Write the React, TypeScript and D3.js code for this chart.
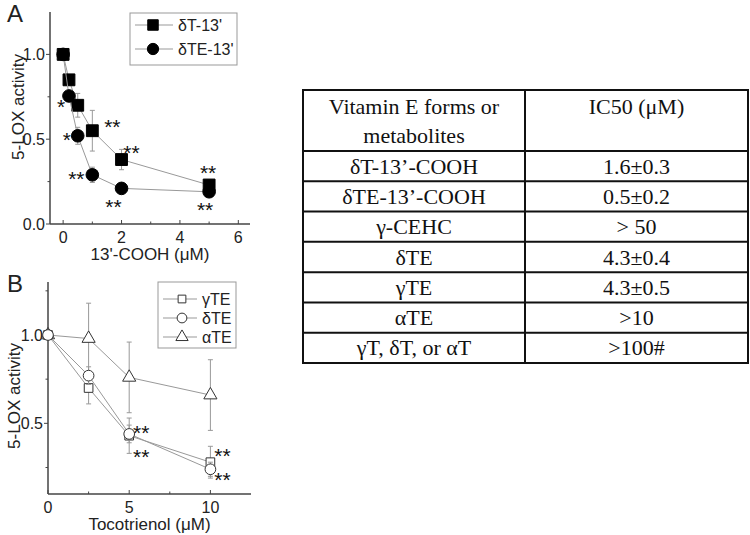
import * as d3 from "d3";

// Panel A: 13'-COOH metabolites
const concA = [0, 0.2, 0.5, 1, 2, 5];
const dT13 = [1.0, 0.85, 0.7, 0.55, 0.38, 0.23];
const dT13Err = [0, 0.03, 0.07, 0.12, 0.06, 0.03];
const dTE13 = [1.0, 0.755, 0.52, 0.29, 0.21, 0.19];
const dTE13Err = [0, 0.03, 0.05, 0.045, 0.02, 0.02];

// Panel B: tocotrienols
const concB = [0, 2.5, 5, 10];
const gTE = [1.0, 0.7, 0.43, 0.28];
const gTEErr = [0, 0.09, 0.1, 0.09];
const dTE = [1.0, 0.77, 0.44, 0.24];
const dTEErr = [0, 0.05, 0.05, 0.04];
const aTE = [1.0, 0.98, 0.76, 0.66];
const aTEErr = [0, 0.2, 0.2, 0.2];

// table
const tableHead = ["Vitamin E forms or", "metabolites"];
const tableHead2 = "IC50 (\u03bcM)";
const tableForms = ["\u03b4T-13\u2019-COOH", "\u03b4TE-13\u2019-COOH", "\u03b3-CEHC", "\u03b4TE", "\u03b3TE", "\u03b1TE", "\u03b3T, \u03b4T, or \u03b1T"];
const tableIC50 = ["1.6\u00b10.3", "0.5\u00b10.2", "> 50", "4.3\u00b10.4", "4.3\u00b10.5", ">10", ">100#"];

const SANS = "'Liberation Sans', Arial, sans-serif";
const SERIF = "'Liberation Serif', 'Times New Roman', serif";
const AX = "#444";
const LN = "#999";

function Star({ x, y, n }: { x: number; y: number; n: number }) {
  const fs = 21;
  return (
    <text x={x} y={y + 0.58 * fs} textAnchor="middle" fontSize={fs} fontFamily={SANS} fill="#111">
      {"*".repeat(n)}
    </text>
  );
}

function Axes({ x, y, xMaj, xMin, yMaj, yMin, xFmt, yFmt, xLabel, yLabelX, yLabelY }: any) {
  const [x0, x1] = x.range();
  const [y0, y1] = y.range();
  return (
    <g fontFamily={SANS} fill="#222">
      <line x1={x0} x2={x1} y1={y0} y2={y0} stroke={AX} strokeWidth={1.5} />
      <line x1={x0} x2={x0} y1={y0} y2={y1} stroke={AX} strokeWidth={1.5} />
      {xMaj.map((t: number) => (
        <g key={"xm" + t}>
          <line x1={x(t)} x2={x(t)} y1={y0} y2={y0 - 4} stroke={AX} />
          <text x={x(t)} y={y0 + 18.5} textAnchor="middle" fontSize={16}>{xFmt(t)}</text>
        </g>
      ))}
      {xMin.map((t: number) => (
        <line key={"xn" + t} x1={x(t)} x2={x(t)} y1={y0} y2={y0 - 2.5} stroke={AX} />
      ))}
      {yMaj.map((t: number) => (
        <g key={"ym" + t}>
          <line x1={x0} x2={x0 - 4} y1={y(t)} y2={y(t)} stroke={AX} />
          <text x={x0 - 5} y={y(t) + 6} textAnchor="end" fontSize={16}>{yFmt(t)}</text>
        </g>
      ))}
      {yMin.map((t: number) => (
        <line key={"yn" + t} x1={x0} x2={x0 - 2.5} y1={y(t)} y2={y(t)} stroke={AX} />
      ))}
      <text x={(x0 + x1) / 2} y={y0 + 36} textAnchor="middle" fontSize={17}>{xLabel}</text>
      <text transform={`translate(${yLabelX},${yLabelY}) rotate(-90)`} textAnchor="middle" fontSize={17}>
        5-LOX activity
      </text>
    </g>
  );
}

function Series({ xs, ys, errs, x, y, symbol, size, fill, stroke }: any) {
  const line = d3.line<number>().x((_, i) => x(xs[i])).y((d) => y(d));
  const sym = d3.symbol().type(symbol).size(size)();
  return (
    <g>
      <path d={line(ys) || ""} fill="none" stroke={LN} strokeWidth={1} />
      {ys.map((v: number, i: number) =>
        errs[i] > 0 ? (
          <g key={"e" + i} stroke={LN} strokeWidth={1}>
            <line x1={x(xs[i])} x2={x(xs[i])} y1={y(v - errs[i])} y2={y(v + errs[i])} />
            <line x1={x(xs[i]) - 2.5} x2={x(xs[i]) + 2.5} y1={y(v - errs[i])} y2={y(v - errs[i])} />
            <line x1={x(xs[i]) - 2.5} x2={x(xs[i]) + 2.5} y1={y(v + errs[i])} y2={y(v + errs[i])} />
          </g>
        ) : null
      )}
      {ys.map((v: number, i: number) => (
        <path key={"m" + i} d={sym || ""} transform={`translate(${x(xs[i])},${y(v)})`} fill={fill} stroke={stroke} strokeWidth={1} />
      ))}
    </g>
  );
}

function LegendRow({ y, x0, x1, mx, tx, symbol, size, fill, stroke, label }: any) {
  const sym = d3.symbol().type(symbol).size(size)();
  return (
    <g>
      <line x1={x0} x2={x1} y1={y} y2={y} stroke={LN} />
      <path d={sym || ""} transform={`translate(${mx},${y})`} fill={fill} stroke={stroke} />
      <text x={tx} y={y + 5.5} fontSize={16} fontFamily={SANS} fill="#222">{label}</text>
    </g>
  );
}

export default function App() {
  const xA = d3.scaleLinear().domain([-0.45, 6.4]).range([50, 250]);
  const yA = d3.scaleLinear().domain([0, 1.25]).range([224, 12]);
  const xB = d3.scaleLinear().domain([0, 12.5]).range([48, 251]);
  const yB = d3.scaleLinear().domain([0.1, 1.3]).range([494, 282]);

  const rowY = d3.scaleLinear().domain([0, tableForms.length]).range([151, 363]);
  const colX = [303, 525, 748];

  const pA = (xs: number[], ys: number[], i: number) => [xA(xs[i]), yA(ys[i])];
  const pB = (xs: number[], ys: number[], i: number) => [xB(xs[i]), yB(ys[i])];

  // significance stars, offset from the marker they belong to
  const starsA = [
    { p: pA(concA, dTE13, 1), dx: -8, dy: 6, n: 1 },
    { p: pA(concA, dTE13, 2), dx: -11, dy: -1, n: 1 },
    { p: pA(concA, dTE13, 3), dx: -16, dy: -1, n: 2 },
    { p: pA(concA, dT13, 3), dx: 20, dy: -9, n: 2 },
    { p: pA(concA, dT13, 4), dx: 10, dy: -12, n: 2 },
    { p: pA(concA, dTE13, 4), dx: -8, dy: 13, n: 2 },
    { p: pA(concA, dT13, 5), dx: -1, dy: -17, n: 2 },
    { p: pA(concA, dTE13, 5), dx: -4, dy: 13, n: 2 },
  ];
  const starsB = [
    { p: pB(concB, dTE, 2), dx: 12, dy: -6, n: 2 },
    { p: pB(concB, dTE, 2), dx: 12, dy: 18, n: 2 },
    { p: pB(concB, gTE, 3), dx: 12, dy: -11, n: 2 },
    { p: pB(concB, dTE, 3), dx: 12, dy: 6, n: 2 },
  ];

  return (
    <svg width={750} height={535} style={{ position: "absolute", left: 0, top: 0, background: "#fff" }}>
      <rect width={750} height={535} fill="#fff" />

      {/* Panel A */}
      <text x={7} y={22} fontSize={24} fontFamily={SANS} fill="#222">A</text>
      <Axes x={xA} y={yA} xMaj={[0, 2, 4, 6]} xMin={[1, 3, 5]} yMaj={[0, 0.5, 1]} yMin={[0.25, 0.75]}
        xFmt={(t: number) => String(t)} yFmt={d3.format(".1f")} xLabel={"13'-COOH (\u03bcM)"}
        yLabelX={24} yLabelY={107} />
      <Series xs={concA} ys={dT13} errs={dT13Err} x={xA} y={yA} symbol={d3.symbolSquare} size={140} fill="#000" stroke="#000" />
      <Series xs={concA} ys={dTE13} errs={dTE13Err} x={xA} y={yA} symbol={d3.symbolCircle} size={125} fill="#000" stroke="#000" />
      {starsA.map((s, i) => <Star key={i} x={s.p[0] + s.dx} y={s.p[1] + s.dy} n={s.n} />)}
      <rect x={130} y={13} width={107} height={52} fill="#fff" stroke="#999" />
      <LegendRow y={25} x0={135} x1={173} mx={153} tx={178} symbol={d3.symbolSquare} size={110} fill="#000" stroke="#000" label={"\u03b4T-13'"} />
      <LegendRow y={49} x0={135} x1={173} mx={153} tx={178} symbol={d3.symbolCircle} size={100} fill="#000" stroke="#000" label={"\u03b4TE-13'"} />

      {/* Panel B */}
      <text x={7} y={292} fontSize={24} fontFamily={SANS} fill="#222">B</text>
      <Axes x={xB} y={yB} xMaj={[0, 5, 10]} xMin={[2.5, 7.5]} yMaj={[0.5, 1]} yMin={[0.25, 0.75, 1.25]}
        xFmt={(t: number) => String(t)} yFmt={d3.format(".1f")} xLabel={"Tocotrienol (\u03bcM)"}
        yLabelX={20} yLabelY={396} />
      <Series xs={concB} ys={aTE} errs={aTEErr} x={xB} y={yB} symbol={d3.symbolTriangle} size={75} fill="#fff" stroke="#333" />
      <Series xs={concB} ys={gTE} errs={gTEErr} x={xB} y={yB} symbol={d3.symbolSquare} size={75} fill="#fff" stroke="#333" />
      <Series xs={concB} ys={dTE} errs={dTEErr} x={xB} y={yB} symbol={d3.symbolCircle} size={90} fill="#fff" stroke="#333" />
      {starsB.map((s, i) => <Star key={i} x={s.p[0] + s.dx} y={s.p[1] + s.dy} n={s.n} />)}
      <rect x={158} y={282} width={78} height={66} fill="#fff" stroke="#999" />
      <LegendRow y={299} x0={163} x1={197} mx={182} tx={202} symbol={d3.symbolSquare} size={60} fill="#fff" stroke="#333" label={"\u03b3TE"} />
      <LegendRow y={318} x0={163} x1={197} mx={182} tx={202} symbol={d3.symbolCircle} size={75} fill="#fff" stroke="#333" label={"\u03b4TE"} />
      <LegendRow y={337} x0={163} x1={197} mx={182} tx={202} symbol={d3.symbolTriangle} size={65} fill="#fff" stroke="#333" label={"\u03b1TE"} />

      {/* Table */}
      <g fontFamily={SERIF} fontSize={22} fill="#111" textAnchor="middle">
        <rect x={colX[0]} y={90} width={colX[2] - colX[0]} height={rowY(tableForms.length) - 90} fill="none" stroke="#111" strokeWidth={2} />
        <line x1={colX[1]} x2={colX[1]} y1={90} y2={rowY(tableForms.length)} stroke="#111" strokeWidth={2} />
        {tableForms.map((_, i) => (
          <line key={"r" + i} x1={colX[0]} x2={colX[2]} y1={rowY(i)} y2={rowY(i)} stroke="#111" strokeWidth={2} />
        ))}
        <text x={(colX[0] + colX[1]) / 2} y={114}>{tableHead[0]}</text>
        <text x={(colX[0] + colX[1]) / 2} y={143}>{tableHead[1]}</text>
        <text x={(colX[1] + colX[2]) / 2} y={114}>{tableHead2}</text>
        {tableForms.map((f, i) => (
          <text key={"f" + i} x={(colX[0] + colX[1]) / 2} y={(rowY(i) + rowY(i + 1)) / 2 + 7.5}>{f}</text>
        ))}
        {tableIC50.map((v, i) => (
          <text key={"v" + i} x={(colX[1] + colX[2]) / 2} y={(rowY(i) + rowY(i + 1)) / 2 + 7.5}>{v}</text>
        ))}
      </g>
    </svg>
  );
}
